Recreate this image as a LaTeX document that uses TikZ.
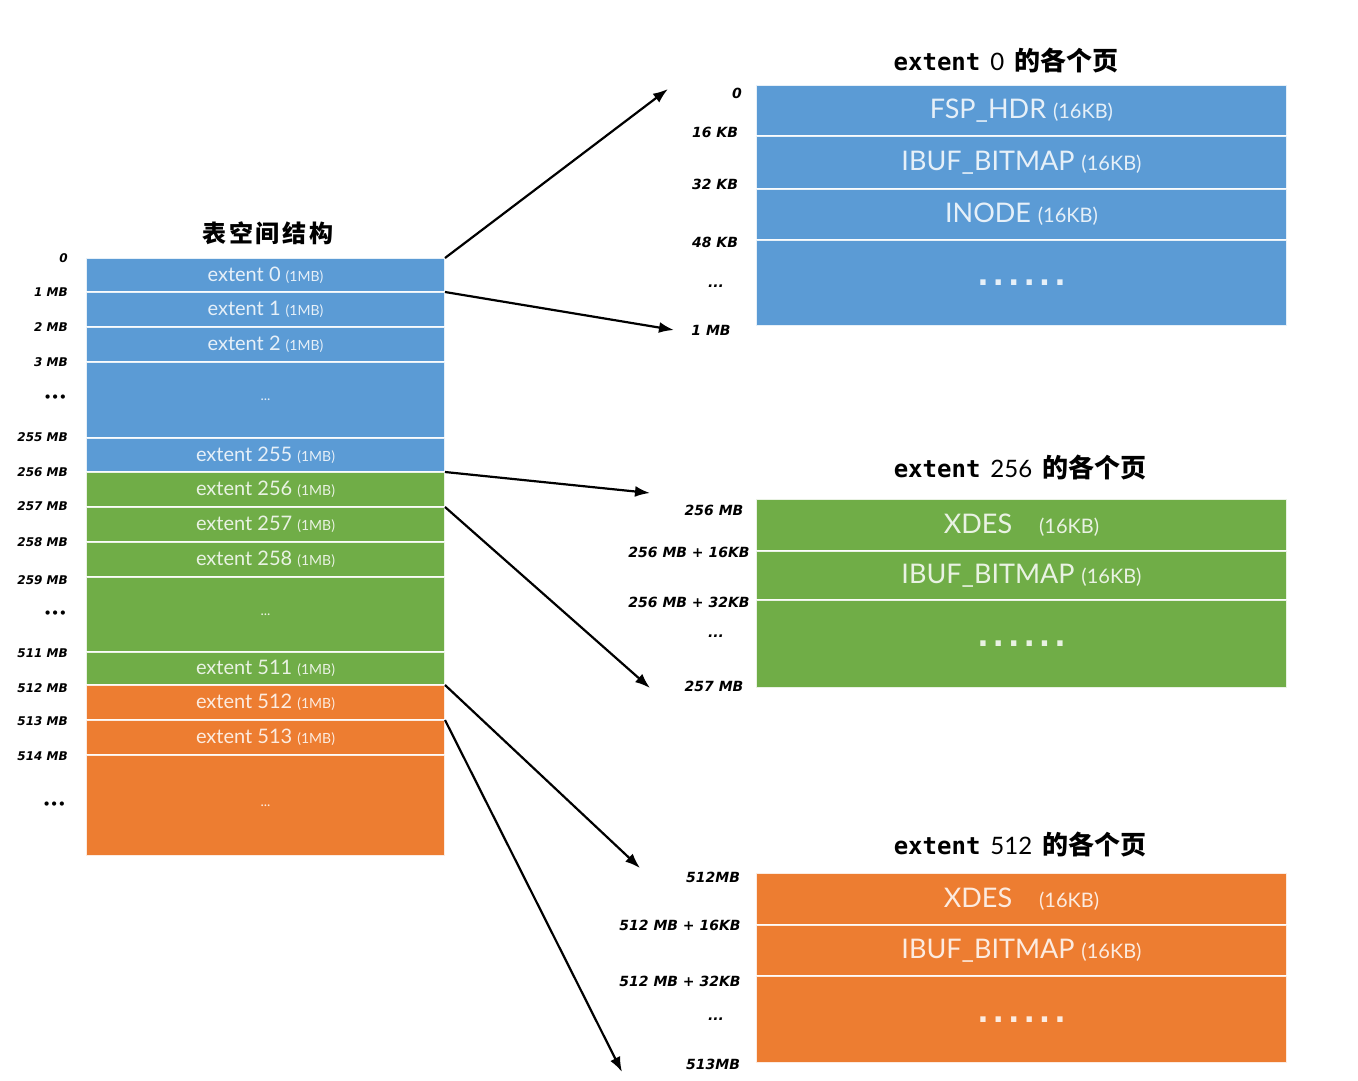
\documentclass[tikz,border=0pt]{standalone}
\usepackage{fontspec}
\setmainfont{Lato}
\newfontfamily\cjk{Noto Sans CJK SC}
\newfontfamily\addrfont{DejaVu Sans}
\newfontfamily\titlefont{DejaVu Sans Mono}
\usetikzlibrary{positioning, arrows.meta}
\definecolor{segblue}{HTML}{5B9BD5}
\definecolor{seggreen}{HTML}{70AD47}
\definecolor{segorange}{HTML}{ED7D31}
\newcommand{\segsize}[1]{{\fontsize{14}{14}\selectfont (#1)}}
\newcommand{\pagesize}[1]{{\fontsize{20}{20}\selectfont (#1)}}
\newcommand{\pagedots}{.\hspace{4pt}.\hspace{4pt}.\hspace{4pt}.\hspace{4pt}.\hspace{4pt}.}
\tikzstyle{seg} = [rectangle, draw=white, draw opacity=0.85, line width=2pt, outer sep=0pt,
    inner sep=0pt, minimum width=359pt, text=white, text opacity=0.85,
    font=\fontsize{20}{20}\selectfont]
\tikzstyle{page} = [seg, minimum width=531pt, font=\fontsize{27}{27}\selectfont]
\tikzstyle{more} = [font=\addrfont\bfseries\fontsize{30}{30}\selectfont]
\tikzstyle{addr} = [inner sep=0pt, font=\addrfont\bfseries\itshape\fontsize{12}{12}\selectfont]
\tikzstyle{paddr} = [addr, font=\addrfont\bfseries\itshape\fontsize{14}{14}\selectfont]
\tikzstyle{heading} = [inner sep=0pt, font=\fontsize{24}{24}\selectfont]
\tikzstyle{line} = [draw, -{Latex[length=15pt,width=11pt]}, line width=2.2pt]

\begin{document}
\begin{tikzpicture}[x=1pt, y=-1pt]
            \useasboundingbox (0,0) rectangle (1358,1080);
            % Tablespace
            \node [font=\cjk\bfseries\fontsize{24}{24}\selectfont\addfontfeature{LetterSpace=12}] (space) at (268,233) {表空间结构};
            \node [seg, fill=segblue, minimum height=34pt, anchor=north west] (e0) at (86,258) {extent 0 \segsize{1MB}};
            \node [seg, fill=segblue, minimum height=35pt, below=0pt of e0] (e1) {extent 1 \segsize{1MB}};
            \node [seg, fill=segblue, minimum height=35pt, below=0pt of e1] (e2) {extent 2 \segsize{1MB}};
            \node [seg, fill=segblue, minimum height=76pt, below=0pt of e2, font=\fontsize{14}{14}\selectfont] (eb) {...};
            \node [seg, fill=segblue, minimum height=34pt, below=0pt of eb] (e255) {extent 255 \segsize{1MB}};
            \node [seg, fill=seggreen, minimum height=35pt, below=0pt of e255] (e256) {extent 256 \segsize{1MB}};
            \node [seg, fill=seggreen, minimum height=35pt, below=0pt of e256] (e257) {extent 257 \segsize{1MB}};
            \node [seg, fill=seggreen, minimum height=35pt, below=0pt of e257] (e258) {extent 258 \segsize{1MB}};
            \node [seg, fill=seggreen, minimum height=75pt, below=0pt of e258, font=\fontsize{14}{14}\selectfont] (eg) {...};
            \node [seg, fill=seggreen, minimum height=33pt, below=0pt of eg] (e511) {extent 511 \segsize{1MB}};
            \node [seg, fill=segorange, minimum height=35pt, below=0pt of e511] (e512) {extent 512 \segsize{1MB}};
            \node [seg, fill=segorange, minimum height=35pt, below=0pt of e512] (e513) {extent 513 \segsize{1MB}};
            \node [seg, fill=segorange, minimum height=101pt, below=0pt of e513, font=\fontsize{14}{14}\selectfont] (eo) {...};
            % Tablespace offsets
            \node [addr, anchor=east] (m0) at (68,258) {0};
            \node [addr, anchor=east] (m1) at (68,292) {1 MB};
            \node [addr, anchor=east] (m2) at (68,327) {2 MB};
            \node [addr, anchor=east] (m3) at (68,362) {3 MB};
            \node [addr, anchor=east] (mb) at (67,398) {•••};
            \node [addr, anchor=east] (m255) at (68,437) {255 MB};
            \node [addr, anchor=east] (m256) at (68,472) {256 MB};
            \node [addr, anchor=east] (m257) at (68,506) {257 MB};
            \node [addr, anchor=east] (m258) at (68,542) {258 MB};
            \node [addr, anchor=east] (m259) at (68,580) {259 MB};
            \node [addr, anchor=east] (mg) at (67,614) {•••};
            \node [addr, anchor=east] (m511) at (68,653) {511 MB};
            \node [addr, anchor=east] (m512) at (68,688) {512 MB};
            \node [addr, anchor=east] (m513) at (68,721) {513 MB};
            \node [addr, anchor=east] (m514) at (68,756) {514 MB};
            \node [addr, anchor=east] (mo) at (66,805) {•••};
            % Pages of extent 0
            \node [heading] (h0) at (1006,60) {{\titlefont\bfseries extent}\hspace{10pt}0\hspace{10pt}{\cjk\bfseries\fontsize{26}{26}\selectfont 的各个页}};
            \node [page, fill=segblue, minimum height=51pt, anchor=north west] (p0a) at (756,85) {FSP\_HDR \pagesize{16KB}};
            \node [page, fill=segblue, minimum height=53pt, below=0pt of p0a] (p0b) {IBUF\_BITMAP \pagesize{16KB}};
            \node [page, fill=segblue, minimum height=51pt, below=0pt of p0b] (p0c) {INODE \pagesize{16KB}};
            \node [page, more, fill=segblue, minimum height=86pt, below=0pt of p0c] (p0d) {\pagedots};
            \node [paddr] (k0a) at (737,93) {0};
            \node [paddr] (k0b) at (715,132) {16 KB};
            \node [paddr] (k0c) at (715,184) {32 KB};
            \node [paddr] (k0d) at (715,242) {48 KB};
            \node [paddr] (k0e) at (716,286) {...};
            \node [paddr] (k0f) at (711,330) {1 MB};
            % Pages of extent 256
            \node [heading] (h256) at (1020,467) {{\titlefont\bfseries extent}\hspace{10pt}256\hspace{10pt}{\cjk\bfseries\fontsize{26}{26}\selectfont 的各个页}};
            \node [page, fill=seggreen, minimum height=52pt, anchor=north west] (p1a) at (756,499) {XDES\quad\pagesize{16KB}};
            \node [page, fill=seggreen, minimum height=49pt, below=0pt of p1a] (p1b) {IBUF\_BITMAP \pagesize{16KB}};
            \node [page, more, fill=seggreen, minimum height=88pt, below=0pt of p1b] (p1c) {\pagedots};
            \node [paddr] (k1a) at (714,510) {256 MB};
            \node [paddr] (k1b) at (689,552) {256 MB + 16KB};
            \node [paddr] (k1c) at (689,602) {256 MB + 32KB};
            \node [paddr] (k1d) at (716,636) {...};
            \node [paddr] (k1e) at (714,686) {257 MB};
            % Pages of extent 512
            \node [heading] (h512) at (1020,844) {{\titlefont\bfseries extent}\hspace{10pt}512\hspace{10pt}{\cjk\bfseries\fontsize{26}{26}\selectfont 的各个页}};
            \node [page, fill=segorange, minimum height=52pt, anchor=north west] (p2a) at (756,873) {XDES\quad\pagesize{16KB}};
            \node [page, fill=segorange, minimum height=51pt, below=0pt of p2a] (p2b) {IBUF\_BITMAP \pagesize{16KB}};
            \node [page, more, fill=segorange, minimum height=87pt, below=0pt of p2b] (p2c) {\pagedots};
            \node [paddr] (k2a) at (713,877) {512MB};
            \node [paddr] (k2b) at (680,925) {512 MB + 16KB};
            \node [paddr] (k2c) at (680,981) {512 MB + 32KB};
            \node [paddr] (k2d) at (716,1019) {...};
            \node [paddr] (k2e) at (713,1064) {513MB};
            % Arrow ends
            \coordinate (t0a) at (668,89);
            \coordinate (t0b) at (674,330);
            \coordinate (t1a) at (650,493);
            \coordinate (t1b) at (650,688);
            \coordinate (t2a) at (640,868);
            \coordinate (t2b) at (622,1072);
            % Draw edges
            \path [line] (e0.north east) -- (t0a);
            \path [line] (e0.south east) -- (t0b);
            \path [line] (e256.north east) -- (t1a);
            \path [line] (e256.south east) -- (t1b);
            \path [line] (e512.north east) -- (t2a);
            \path [line] (e512.south east) -- (t2b);
        \end{tikzpicture}
\end{document}
